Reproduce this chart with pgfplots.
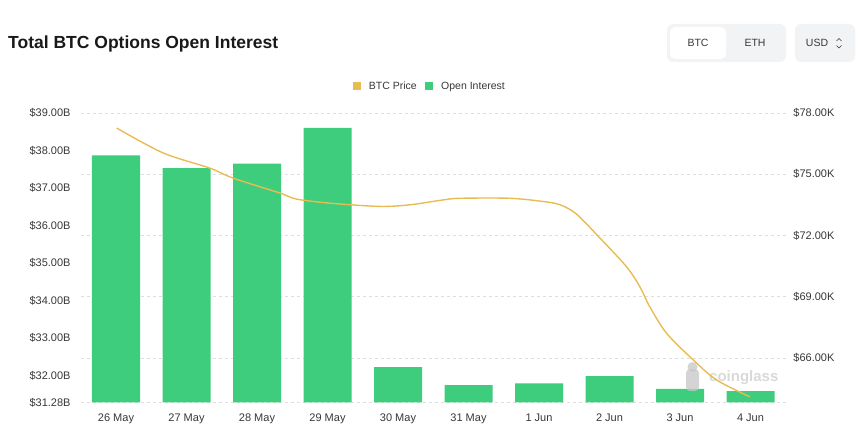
\documentclass[border=0pt]{standalone}
\usepackage{fontspec}
\setmainfont{Liberation Sans}
\usepackage{pgfplots}
\pgfplotsset{compat=1.18}
\definecolor{oigreen}{RGB}{62,204,125}
\definecolor{pricey}{RGB}{232,188,82}
\definecolor{gridc}{RGB}{222,222,222}
\definecolor{txt}{RGB}{55,55,55}
\definecolor{btnbg}{RGB}{241,243,245}
\pgfplotsset{base/.style={at={(80.75pt,22.5pt)}, anchor=south west, scale only axis,
  width=705pt, height=289.5pt, xmin=-0.5, xmax=9.5,
  axis line style={draw=none}, tick style={draw=none}}}
\begin{document}
\begin{tikzpicture}
\useasboundingbox (0pt,0pt) rectangle (860pt,425pt);
% title
\node[anchor=west, inner sep=0pt, font=\fontsize{17.5}{20}\selectfont\bfseries, text=black!90] at (8pt,381pt) {Total BTC Options Open Interest};
% buttons
\fill[btnbg, rounded corners=6pt] (667pt,363pt) rectangle (786pt,401pt);
\fill[white, rounded corners=5pt] (670pt,366pt) rectangle (726pt,398pt);
\node[font=\fontsize{10.5}{12}\selectfont, text=txt] at (698pt,382pt) {BTC};
\node[font=\fontsize{10.5}{12}\selectfont, text=txt] at (755pt,382pt) {ETH};
\fill[btnbg, rounded corners=6pt] (795pt,363pt) rectangle (855pt,401pt);
\node[font=\fontsize{10.5}{12}\selectfont, text=txt] at (817pt,382pt) {USD};
\draw[txt, line width=0.6pt] (836.5pt,384pt) -- (839pt,386.5pt) -- (841.5pt,384pt);
\draw[txt, line width=0.6pt] (836.5pt,379.5pt) -- (839pt,377pt) -- (841.5pt,379.5pt);

% grid axis (right scale)
\begin{axis}[base, ymin=63.81, ymax=78,
  xtick=\empty, ytick={66,69,72,75,78}, yticklabels={},
  extra y ticks={63.81}, extra y tick labels={}, extra y tick style={grid=major},
  ymajorgrids, grid style={gridc, dashed, line width=0.6pt}]
\end{axis}

% bars axis (left scale)
\begin{axis}[base, ymin=31.28, ymax=39,
  xtick={0,...,9},
  xticklabels={26 May,27 May,28 May,29 May,30 May,31 May,1 Jun,2 Jun,3 Jun,4 Jun},
  xticklabel style={font=\fontsize{11}{13}\selectfont, text=txt, inner sep=0pt, anchor=north, yshift=-7pt},
  ytick={31.28,32,33,34,35,36,37,38,39},
  yticklabel={\$\pgfmathprintnumber[fixed,fixed zerofill,precision=2]{\tick}B},
  yticklabel style={font=\fontsize{11}{13}\selectfont, text=txt, inner sep=0pt, anchor=east, xshift=-10pt},
  /pgf/number format/assume math mode=true,
  ybar, bar width=48pt]
\addplot[fill=oigreen, draw=none] coordinates {
(0,37.87) (1,37.53) (2,37.65) (3,38.60) (4,32.22)
(5,31.74) (6,31.79) (7,31.98) (8,31.64) (9,31.58)};
\end{axis}

% watermark
\begin{scope}[opacity=0.75]
\fill[gray!45, rounded corners=4pt] (686pt,34pt) rectangle (699pt,56pt);
\fill[gray!45] (692.5pt,58pt) circle (5pt);
\node[anchor=west, inner sep=0pt, font=\fontsize{15}{16}\selectfont\bfseries, text=gray!40] at (709pt,47pt) {coinglass};
\end{scope}

% price line axis (right scale)
\begin{axis}[base, ymin=63.81, ymax=78,
  xtick=\empty, axis y line*=right,
  ytick={66,69,72,75,78},
  yticklabel={\$\pgfmathprintnumber[fixed,fixed zerofill,precision=2]{\tick}K},
  yticklabel style={font=\fontsize{11}{13}\selectfont, text=txt, inner sep=0pt, anchor=west, xshift=7.5pt},
  /pgf/number format/assume math mode=true,
  legend columns=2,
  legend style={at={(0.495,1.0927)}, anchor=center, draw=none, fill=none,
    font=\fontsize{10.5}{12}\selectfont, text=txt,
    /tikz/every even column/.append style={column sep=6pt}},
  ]
\addlegendimage{legend image code/.code={\fill[pricey] (0pt,-3.5pt) rectangle (7pt,3.5pt); \path (14pt,0pt);}}
\addlegendentry{BTC Price}
\addlegendimage{legend image code/.code={\fill[oigreen] (0pt,-3.5pt) rectangle (7pt,3.5pt); \path (14pt,0pt);}}
\addlegendentry{Open Interest}
\addplot[pricey, line width=1.4pt, smooth, tension=0.5, forget plot] coordinates {
(0.01,77.26) (0.67,76.04) (1.33,75.30) (1.66,74.81) (2.33,74.07) (2.56,73.78)
(3.04,73.58) (3.74,73.42) (4.17,73.50) (4.64,73.74) (4.88,73.82) (5.59,73.82)
(6.06,73.66) (6.30,73.50) (6.53,73.05) (6.87,71.85) (7.24,70.47) (7.43,69.49)
(7.57,68.51) (7.81,67.20) (8.19,65.89) (8.52,64.91) (8.99,64.09)};
\end{axis}
\end{tikzpicture}
\end{document}
